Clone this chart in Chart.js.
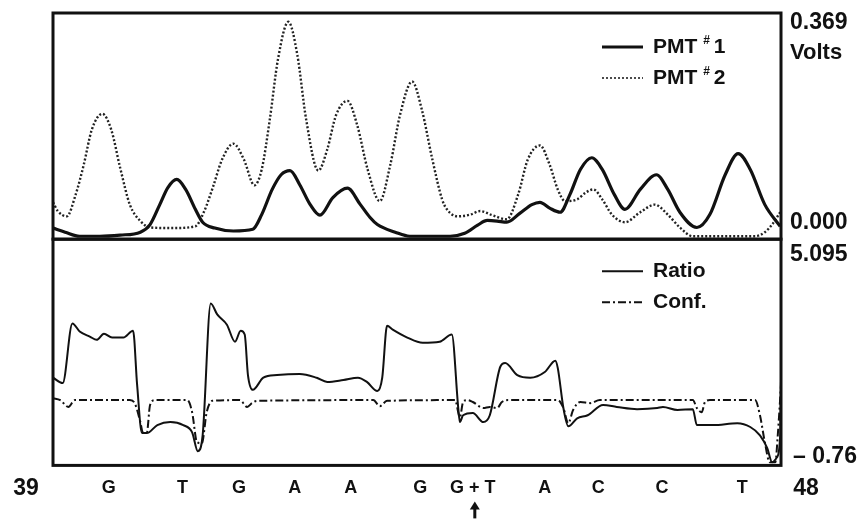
<!DOCTYPE html>
<html>
<head>
<meta charset="utf-8">
<script src="https://cdn.jsdelivr.net/npm/chart.js@4.4.1/dist/chart.umd.min.js"></script>
<style>
body { margin: 0; background: #fff; }
#chart { display: block; }
</style>
</head>
<body>
<canvas id="chart" width="867" height="520"></canvas>
<script>
// position along the read (39 .. 48) and signal
const pmt1 = [[39.00,0.014],[39.15,0.007],[39.33,0],[39.58,0],[39.83,0.002],[40.08,0.007],[40.20,0.020],[40.32,0.054],[40.42,0.083],[40.53,0.097],[40.64,0.080],[40.76,0.046],[40.85,0.024],[41.00,0.014],[41.23,0.009],[41.47,0.012],[41.58,0.037],[41.71,0.080],[41.82,0.105],[41.93,0.112],[42.05,0.088],[42.18,0.054],[42.30,0.036],[42.46,0.066],[42.64,0.082],[42.80,0.054],[42.92,0.032],[43.01,0.020],[43.23,0.007],[43.41,0],[43.91,0],[44.09,0.005],[44.25,0.019],[44.37,0.027],[44.49,0.026],[44.61,0.024],[44.77,0.039],[44.92,0.054],[45.02,0.058],[45.14,0.048],[45.27,0.041],[45.39,0.071],[45.52,0.114],[45.66,0.134],[45.79,0.114],[45.94,0.071],[46.07,0.046],[46.26,0.080],[46.46,0.105],[46.60,0.080],[46.75,0.041],[46.96,0.015],[47.12,0.037],[47.31,0.105],[47.47,0.141],[47.62,0.114],[47.80,0.054],[47.99,0.017]]

const pmt2 = [[39.00,0.058],[39.06,0.043],[39.17,0.034],[39.28,0.071],[39.38,0.122],[39.48,0.182],[39.61,0.209],[39.72,0.182],[39.83,0.117],[39.95,0.054],[40.08,0.026],[40.20,0.015],[40.48,0.014],[40.76,0.017],[40.87,0.043],[40.98,0.085],[41.09,0.131],[41.23,0.158],[41.36,0.131],[41.49,0.087],[41.58,0.114],[41.68,0.199],[41.78,0.301],[41.91,0.366],[42.02,0.310],[42.13,0.199],[42.28,0.112],[42.39,0.148],[42.50,0.207],[42.64,0.231],[42.76,0.190],[42.89,0.114],[43.04,0.060],[43.17,0.122],[43.29,0.207],[43.44,0.264],[43.56,0.216],[43.69,0.131],[43.81,0.063],[43.87,0.046],[44.00,0.034],[44.16,0.037],[44.28,0.043],[44.43,0.036],[44.61,0.029],[44.75,0.071],[44.87,0.131],[45.02,0.155],[45.14,0.122],[45.24,0.080],[45.33,0.060],[45.48,0.063],[45.59,0.075],[45.68,0.080],[45.79,0.063],[45.91,0.037],[46.07,0.024],[46.26,0.041],[46.44,0.054],[46.60,0.037],[46.75,0.015],[46.91,0],[47.12,0],[47.68,0],[47.80,0.007],[47.89,0.020],[47.99,0.041]]

const ratio = [[39.00,1.50],[39.12,1.36],[39.24,2.93],[39.33,2.72],[39.46,2.58],[39.54,2.50],[39.63,2.66],[39.73,2.56],[39.87,2.56],[39.99,2.74],[40.04,1.31],[40.10,0.04],[40.16,0.04],[40.29,0.25],[40.45,0.33],[40.61,0.25],[40.72,0.06],[40.79,-0.44],[40.85,-0.02],[40.95,3.46],[41.03,3.17],[41.15,2.90],[41.25,2.45],[41.32,2.74],[41.37,2.64],[41.41,1.57],[41.47,1.18],[41.60,1.50],[41.77,1.57],[42.05,1.60],[42.26,1.50],[42.39,1.39],[42.59,1.44],[42.77,1.50],[42.88,1.39],[43.01,1.15],[43.07,1.50],[43.13,2.87],[43.20,2.77],[43.38,2.56],[43.57,2.42],[43.78,2.45],[43.93,2.64],[44.01,0.70],[44.03,0.33],[44.07,0.51],[44.19,0.57],[44.32,0.33],[44.40,0.51],[44.53,1.79],[44.59,1.89],[44.74,1.57],[44.90,1.50],[45.08,1.65],[45.21,1.95],[45.24,1.76],[45.31,0.70],[45.37,0.22],[45.48,0.43],[45.61,0.51],[45.80,0.78],[45.97,0.73],[46.22,0.67],[46.47,0.70],[46.54,0.73],[46.72,0.65],[46.91,0.67],[46.96,0.25],[47.16,0.25],[47.46,0.30],[47.62,0.20],[47.74,-0.02],[47.83,-0.36],[47.89,-0.73],[47.95,-0.60],[47.99,-0.02],[48.00,1.44]]

const conf = [[39.00,0.96],[39.09,0.91],[39.19,0.73],[39.27,0.91],[39.95,0.91],[40.01,0.83],[40.08,0.33],[40.11,0.06],[40.16,0.06],[40.20,0.78],[40.26,0.91],[40.66,0.91],[40.72,0.59],[40.78,-0.20],[40.84,-0.23],[40.90,0.59],[40.97,0.89],[41.31,0.91],[41.40,0.73],[41.46,0.83],[41.52,0.89],[42.96,0.91],[43.04,0.75],[43.13,0.89],[43.97,0.91],[44.03,0.46],[44.07,0.86],[44.12,0.91],[44.19,0.86],[44.32,0.70],[44.40,0.73],[44.49,0.70],[44.55,0.86],[44.63,0.91],[45.24,0.91],[45.31,0.70],[45.37,0.30],[45.43,0.65],[45.52,0.86],[45.64,0.83],[45.76,0.91],[46.91,0.91],[46.96,0.70],[47.02,0.59],[47.06,0.86],[47.12,0.91],[47.68,0.91],[47.74,0.51],[47.80,-0.20],[47.86,-0.73],[47.93,-0.73],[47.96,-0.02],[48.00,1.31]]

const base_pos = [39.69, 40.60, 41.30, 41.99, 42.68, 43.54, 44.19, 45.08, 45.74, 46.53, 47.52]
const base_labels = ['G', 'T', 'G', 'A', 'A', 'G', 'G + T', 'A', 'C', 'C', 'T']
const arrow_at = 44.19

const read_start = 39
const read_end = 48
const volts_max = 0.369
const ratio_max = 5.095
const ratio_min = -0.76

const ink = '#111'
const font_face = '"Liberation Sans", Arial, Helvetica, sans-serif'

function to_points(pairs){
    return pairs.map(p => ({x: p[0], y: p[1]}))
}

function draw_legend(ctx, x, y, datasets){
    datasets.forEach((ds, i) => {
        var yy = y + i * 31
        ctx.save()
        ctx.strokeStyle = ink
        ctx.lineWidth = ds.legendWidth || ds.borderWidth
        ctx.setLineDash(ds.borderDash || [])
        ctx.beginPath()
        ctx.moveTo(x, yy)
        ctx.lineTo(x + 41, yy)
        ctx.stroke()
        ctx.restore()
        var tx = x + 51
        var parts = ds.label.split('#')
        ctx.font = 'bold 21px ' + font_face
        ctx.fillText(parts[0], tx, yy)
        if (parts.length > 1){
            tx += ctx.measureText(parts[0]).width
            ctx.font = 'bold 12px ' + font_face
            ctx.fillText('#', tx, yy - 6)
            tx += ctx.measureText('#').width + 4
            ctx.font = 'bold 21px ' + font_face
            ctx.fillText(parts[1], tx, yy)
        }
    })
}

const frames_plugin = {
    id: 'frames',
    afterDraw(chart){
        var ctx = chart.ctx
        var area = chart.chartArea
        var x = chart.scales.x
        var top = chart.scales.yTop
        var bot = chart.scales.yBot
        var ds = chart.data.datasets
        ctx.save()
        ctx.strokeStyle = ink
        ctx.lineWidth = 3
        ctx.strokeRect(area.left, top.top, area.right - area.left, top.bottom - top.top)
        ctx.strokeRect(area.left, bot.top, area.right - area.left, bot.bottom - bot.top)

        ctx.fillStyle = ink
        ctx.textBaseline = 'middle'
        ctx.textAlign = 'left'
        var rx = area.right + 9
        ctx.font = 'bold 23px ' + font_face
        ctx.fillText(volts_max.toFixed(3), rx, top.getPixelForValue(volts_max) + 3)
        ctx.fillText('0.000', rx, top.getPixelForValue(0) - 14)
        ctx.fillText(ratio_max.toFixed(3), rx, bot.getPixelForValue(ratio_max) + 13)
        ctx.fillText('\u2013 ' + Math.abs(ratio_min).toFixed(2), rx + 3, bot.getPixelForValue(ratio_min) - 7)
        ctx.font = 'bold 22px ' + font_face
        ctx.fillText('Volts', rx, top.getPixelForValue(volts_max) + 33)

        var ly = area.bottom + 23
        ctx.font = 'bold 23px ' + font_face
        ctx.textAlign = 'center'
        ctx.fillText(String(read_start), x.getPixelForValue(read_start) - 27, ly)
        ctx.fillText(String(read_end), x.getPixelForValue(read_end) + 25, ly)

        // arrow under the mixed call
        var ax = x.getPixelForValue(arrow_at) + 2
        ctx.lineWidth = 3
        ctx.beginPath()
        ctx.moveTo(ax, area.bottom + 53)
        ctx.lineTo(ax, area.bottom + 42)
        ctx.stroke()
        ctx.beginPath()
        ctx.moveTo(ax - 5, area.bottom + 44)
        ctx.lineTo(ax + 5, area.bottom + 44)
        ctx.lineTo(ax, area.bottom + 36)
        ctx.closePath()
        ctx.fill()

        ctx.textAlign = 'left'
        draw_legend(ctx, area.right - 179, top.top + 34, [ds[0], ds[1]])
        draw_legend(ctx, area.right - 179, bot.top + 32, [ds[2], ds[3]])
        ctx.restore()
    }
}

const ctx = document.getElementById('chart')
const myChart = new Chart(ctx, {
    type: 'line',
    data: {
        datasets: [{
            label: 'PMT #1',
            data: to_points(pmt1),
            yAxisID: 'yTop',
            borderColor: ink,
            borderWidth: 3.2
        }, {
            label: 'PMT #2',
            data: to_points(pmt2),
            yAxisID: 'yTop',
            borderColor: '#222',
            borderWidth: 2.4,
            borderDash: [2, 2],
            legendWidth: 1.5
        }, {
            label: 'Ratio',
            data: to_points(ratio),
            yAxisID: 'yBot',
            borderColor: ink,
            borderWidth: 2
        }, {
            label: 'Conf.',
            data: to_points(conf),
            yAxisID: 'yBot',
            borderColor: ink,
            borderWidth: 2,
            borderDash: [8, 3, 2, 3]
        }]
    },
    options: {
        responsive: false,
        animation: false,
        devicePixelRatio: 1,
        layout: {
            padding: {left: 53, top: 13, right: 86, bottom: 9}
        },
        elements: {
            point: {radius: 0},
            line: {cubicInterpolationMode: 'monotone', fill: false}
        },
        scales: {
            x: {
                type: 'linear',
                min: read_start,
                max: read_end,
                afterBuildTicks: axis => {
                    axis.ticks = base_pos.map(v => ({value: v}))
                },
                ticks: {
                    autoSkip: false,
                    maxRotation: 0,
                    padding: 12,
                    color: ink,
                    font: {family: font_face, size: 18, weight: 'bold'},
                    callback: (value, index) => base_labels[index]
                },
                grid: {display: false, drawTicks: false},
                border: {display: false}
            },
            yTop: {
                type: 'linear',
                position: 'right',
                stack: 'panels',
                stackWeight: 1,
                min: -0.005,
                max: 0.381,
                ticks: {display: false},
                grid: {display: false, drawTicks: false},
                border: {display: false}
            },
            yBot: {
                type: 'linear',
                position: 'right',
                stack: 'panels',
                stackWeight: 1,
                min: -0.813,
                max: 5.155,
                ticks: {display: false},
                grid: {display: false, drawTicks: false},
                border: {display: false}
            }
        },
        plugins: {
            legend: {display: false},
            tooltip: {enabled: false}
        }
    },
    plugins: [frames_plugin]
})
</script>
</body>
</html>
